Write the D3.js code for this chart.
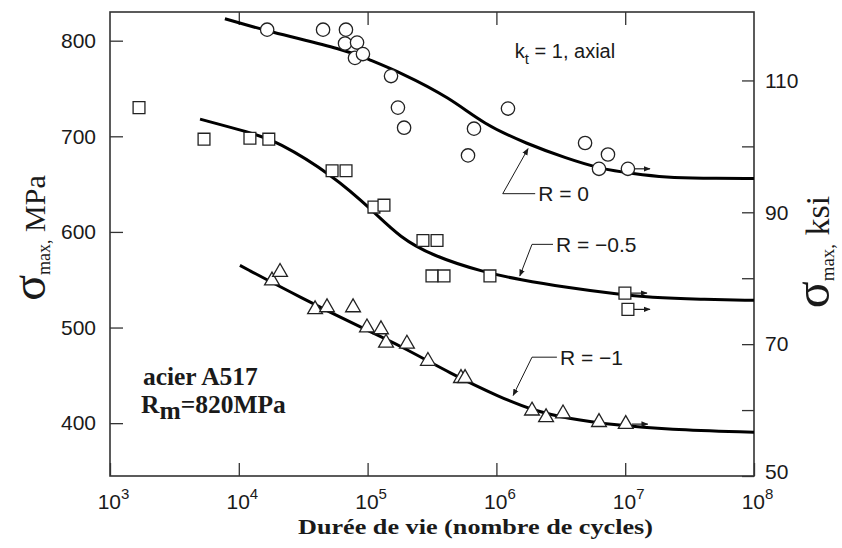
<!DOCTYPE html>
<html>
<head>
<meta charset="utf-8">
<script src="https://cdn.jsdelivr.net/npm/d3@7"></script>
<style>
  body { margin: 0; background: #fff; }
  svg { display: block; }
</style>
</head>
<body>
<div id="chart"></div>
<script>
// life N (cycles) and max stress (MPa)
const curveR0 = [[7.8e3,823],[1.66e4,810],[6.9e4,790],[9.9e4,781],[1.79e5,767],[4.4e5,740],[7.9e5,713],[1.73e6,692],[3.5e6,677],[6.4e6,666],[1.15e7,661],[2.1e7,657],[3.8e7,656],[1e8,656]];
const curveR05 = [[5.0e3,718],[1.22e4,704],[1.98e4,695],[5.4e4,659],[1.1e5,622],[1.79e5,594],[3.2e5,575],[7.9e5,558],[1.52e6,550],[3.5e6,542],[8.6e6,535],[1.56e7,531.5],[3.8e7,529.5],[1e8,528.5]];
const curveR1 = [[1.02e4,565],[3.0e4,531.5],[9.9e4,497],[1.79e5,481],[4.4e5,452],[1.07e6,427],[1.92e6,413.5],[3.5e6,405],[8.6e6,397.7],[2.1e7,393.5],[1e8,390.5]];

const circlesR0 = [[16600,811.5],[45100,811.5],[67900,811.5],[66800,797],[82800,798],[79800,782],[92000,786],[152000,763],[172000,730],[192000,709],[670000,708],[602000,680],[1230000,729],[4880000,693],[7350000,681],[6260000,666]];
const runoutR0 = [[10500000,666]];
const squaresR05 = [[1680,730],[5370,697],[12200,698],[17100,697],[53000,664],[68000,664],[112000,626],[134000,628],[269000,591],[346000,591],[316000,554],[392000,554],[891000,554]];
const runoutR05 = [[9950000,536],[10500000,519]];
const trianglesR1 = [[18100,549],[20900,558],[39100,519],[48400,521],[77100,521],[98900,500],[127000,498],[139000,484],[202000,483],[294000,465],[531000,447],[571000,447],[1890000,413],[2430000,406],[3290000,410],[6260000,401]];
const runoutR1 = [[10100000,399]];

const xTicks = [1e3, 1e4, 1e5, 1e6, 1e7, 1e8];
const yTicks = [400, 500, 600, 700, 800];
const ksiTicks = [50, 60, 70, 80, 90, 100, 110];
const ksiLabels = [50, 70, 90, 110];
const curveNames = ["R = 0", "R = \u22120.5", "R = \u22121"];

const W = 842, H = 548;
const mLeft = 110, mRight = 754, mTop = 12, mBottom = 476;
const MPA_PER_KSI = 6.894757;

const svg = d3.select("#chart").append("svg")
    .attr("width", W).attr("height", H)
    .style("background", "#fff");

const x = d3.scaleLog().domain([1e3, 1e8]).range([mLeft, mRight]);
const y = d3.scaleLinear().domain([50 * MPA_PER_KSI, 830]).range([mBottom, mTop]);
const yKsi = d3.scaleLinear().domain(y.domain().map(d => d / MPA_PER_KSI)).range([mBottom, mTop]);

const sans = "'Liberation Sans', Arial, sans-serif";
const serif = "'Liberation Serif', 'Times New Roman', serif";
const ink = "#1a1a1a";

// arrow heads
const defs = svg.append("defs");
defs.append("marker")
    .attr("id", "arr").attr("viewBox", "0 0 10 10")
    .attr("refX", 9).attr("refY", 5)
    .attr("markerWidth", 7).attr("markerHeight", 7)
    .attr("markerUnits", "userSpaceOnUse")
    .attr("orient", "auto")
  .append("path").attr("d", "M0,1 L10,5 L0,9 Z").attr("fill", ink);

// axes (ticks point inward)
const axisStyle = g => {
  g.select(".domain").remove();
  g.selectAll(".tick line").attr("stroke", "#333").attr("stroke-width", 1.3);
  g.selectAll("text").attr("fill", ink).attr("font-family", sans).attr("font-size", 21);
};

svg.append("g")
    .attr("transform", `translate(${mLeft},0)`)
    .call(d3.axisLeft(y).tickValues(yTicks).tickSizeInner(-13).tickSizeOuter(0).tickPadding(14).tickFormat(d3.format("d")))
    .call(axisStyle);

svg.append("g")
    .attr("transform", `translate(${mRight},0)`)
    .call(d3.axisRight(yKsi).tickValues(ksiTicks).tickSizeInner(-12).tickSizeOuter(0).tickPadding(11)
      .tickFormat(d => ksiLabels.includes(d) ? d : ""))
    .call(axisStyle)
    .call(g => g.selectAll(".tick text").filter(d => d === 50).attr("dy", "0.1em"));

svg.append("g")
    .attr("transform", `translate(0,${mTop})`)
    .call(d3.axisTop(x).tickValues(xTicks.slice(1, -1)).tickSizeInner(-13).tickSizeOuter(0).tickFormat(""))
    .call(axisStyle);

const xAxis = svg.append("g")
    .attr("transform", `translate(0,${mBottom})`)
    .call(d3.axisBottom(x).tickValues(xTicks).tickSizeInner(-13).tickSizeOuter(0).tickPadding(18).tickFormat(""))
    .call(axisStyle);
xAxis.selectAll(".tick text").each(function(d) {
  const t = d3.select(this).attr("dx", 3);
  t.append("tspan").text("10");
  t.append("tspan").attr("dy", -10).attr("font-size", 15).text(Math.round(Math.log10(d)));
});

// frame
svg.append("rect")
    .attr("x", mLeft).attr("y", mTop)
    .attr("width", mRight - mLeft).attr("height", mBottom - mTop)
    .attr("fill", "none").attr("stroke", "#333").attr("stroke-width", 1.6);

// fitted curves
const line = d3.line().x(d => x(d[0])).y(d => y(d[1])).curve(d3.curveBasis);
[curveR0, curveR05, curveR1].forEach(c => {
  svg.append("path").datum(c)
      .attr("d", line)
      .attr("fill", "none").attr("stroke", "#000").attr("stroke-width", 3);
});

// run-out arrows
[...runoutR0, ...runoutR05, ...runoutR1].forEach(d => {
  svg.append("line")
      .attr("x1", x(d[0]) + 6).attr("x2", x(d[0]) + 22)
      .attr("y1", y(d[1])).attr("y2", y(d[1]))
      .attr("stroke", ink).attr("stroke-width", 1.2)
      .attr("marker-end", "url(#arr)");
});

// test points
const markers = [
  {pts: circlesR0.concat(runoutR0), type: d3.symbolCircle, size: 140},
  {pts: squaresR05.concat(runoutR05), type: d3.symbolSquare, size: 140},
  {pts: trianglesR1.concat(runoutR1), type: d3.symbolTriangle, size: 95}
];
markers.forEach(m => {
  svg.append("g").selectAll("path").data(m.pts).join("path")
      .attr("transform", d => `translate(${x(d[0])},${y(d[1])})`)
      .attr("d", d3.symbol().type(m.type).size(m.size))
      .attr("fill", "#fff").attr("stroke", "#222").attr("stroke-width", 1.3);
});

// curve labels with leader lines: [tip on curve, corner, end of horizontal]
const leaders = [
  [[1.76e6, 687], [1.12e6, 640], [2.0e6, 640]],
  [[1.52e6, 554], [1.89e6, 587], [2.75e6, 587]],
  [[1.35e6, 429], [1.89e6, 469], [2.95e6, 469]]
];
leaders.forEach((l, i) => {
  svg.append("path")
      .attr("d", `M${x(l[2][0])},${y(l[2][1])} L${x(l[1][0])},${y(l[1][1])} L${x(l[0][0])},${y(l[0][1])}`)
      .attr("fill", "none").attr("stroke", ink).attr("stroke-width", 1)
      .attr("marker-end", "url(#arr)");
  svg.append("text")
      .attr("x", x(l[2][0]) + 3).attr("y", y(l[2][1]))
      .attr("dy", "0.36em")
      .attr("font-family", sans).attr("font-size", 21).attr("fill", ink)
      .text(curveNames[i]);
});

// kt note
const kt = svg.append("text")
    .attr("x", x(1.39e6)).attr("y", y(782))
    .attr("font-family", sans).attr("font-size", 20).attr("fill", ink);
kt.append("tspan").text("k");
kt.append("tspan").attr("dy", 6).attr("font-size", 15).text("t");
kt.append("tspan").attr("dy", -6).text(" = 1, axial");

// material note
svg.append("text")
    .attr("x", x(1.8e3)).attr("y", y(440))
    .attr("font-family", serif).attr("font-weight", "bold").attr("font-size", 25.5).attr("fill", ink)
    .text("acier A517");
const rm = svg.append("text")
    .attr("x", x(1.74e3)).attr("y", y(411))
    .attr("font-family", serif).attr("font-weight", "bold").attr("font-size", 25.5).attr("fill", ink);
rm.append("tspan").text("R");
rm.append("tspan").attr("dy", 6).text("m");
rm.append("tspan").attr("dy", -6).text("=820MPa");

// axis titles
svg.append("text")
    .attr("x", 298).attr("y", 534)
    .attr("font-family", serif).attr("font-weight", "bold").attr("font-size", 20).attr("fill", ink)
    .attr("textLength", 355).attr("lengthAdjust", "spacingAndGlyphs")
    .text("Durée de vie (nombre de cycles)");

function sigmaTitle(cx, cy, sizes, unit) {
  const t = svg.append("text")
      .attr("transform", `translate(${cx},${cy}) rotate(-90)`)
      .attr("text-anchor", "middle")
      .attr("font-family", serif).attr("fill", ink);
  t.append("tspan").attr("font-size", sizes[0]).text("σ");
  t.append("tspan").attr("font-size", sizes[1]).attr("dy", 5).text("max,");
  t.append("tspan").attr("font-size", sizes[2]).attr("dy", -5).text(" " + unit);
}
sigmaTitle(45, 238, [48, 18, 30], "MPa");
sigmaTitle(829, 252, [50, 19, 34], "ksi");
</script>
</body>
</html>
